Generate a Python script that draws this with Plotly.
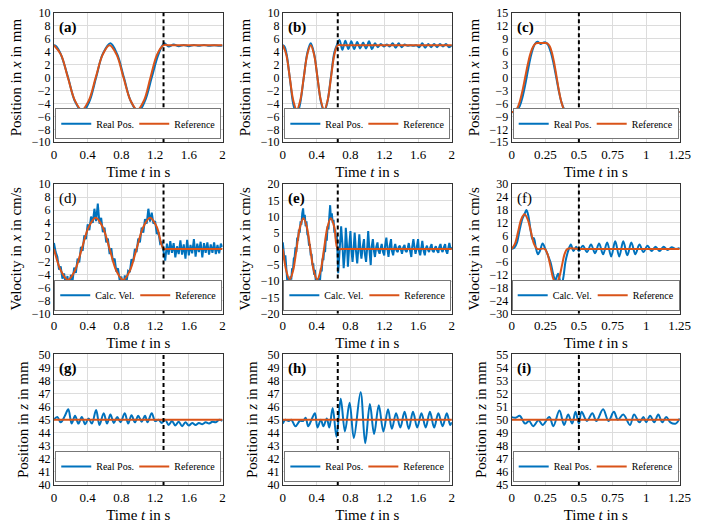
import plotly.graph_objects as go

BLUE = "#0072BD"
ORANGE = "#D95319"

# ---------------- Panel (a): position x ----------------
ref_a_t = [0, 0.083, 0.165, 0.248, 0.33, 0.413, 0.495, 0.578, 0.66, 0.743, 0.825, 0.908, 0.99, 1.068, 1.145, 1.223, 1.3, 1.36, 1.5, 2.0]
ref_a_y = [5, 3.54, 0, -3.54, -5, -3.54, 0, 3.54, 5, 3.54, 0, -3.54, -5, -3.54, 0, 3.54, 5, 5, 5, 5]
real_a_t = [0, 0.02, 0.05, 0.09, 0.17, 0.25, 0.34, 0.42, 0.5, 0.58, 0.67, 0.75, 0.83, 0.91, 1.0, 1.08, 1.16, 1.24, 1.31,
            1.36, 1.42, 1.48, 1.54, 1.6, 1.66, 1.72, 1.78, 1.84, 1.9, 1.96, 2.0]
real_a_y = [5, 4.9, 4.4, 3.3, -0.1, -3.7, -5.3, -3.7, 0, 3.7, 5.3, 3.6, 0, -3.6, -5.3, -3.6, 0, 3.6, 5.3,
            4.8, 5.1, 4.85, 5.05, 4.85, 5.05, 4.9, 5.05, 4.9, 5.0, 4.9, 4.95]

# ---------------- Panel (b): position x ----------------
ref_b_t = [0, 0.041, 0.0825, 0.124, 0.165, 0.206, 0.2475, 0.289, 0.33, 0.37, 0.41, 0.45, 0.49, 0.53, 0.57, 0.61, 0.65, 0.7, 1.0, 2.0]
ref_b_y = [5, 3.54, 0, -3.54, -5, -3.54, 0, 3.54, 5, 3.54, 0, -3.54, -5, -3.54, 0, 3.54, 5, 5, 5, 5]
real_b_t = [0, 0.02, 0.045, 0.085, 0.125, 0.165, 0.205, 0.25, 0.29, 0.33, 0.37, 0.41, 0.45, 0.49, 0.53, 0.57, 0.61, 0.645,
            0.67, 0.705, 0.74, 0.775, 0.81, 0.845, 0.88, 0.915, 0.95, 0.985, 1.02, 1.055, 1.09, 1.125, 1.16, 1.195,
            1.23, 1.265, 1.3, 1.335, 1.37, 1.405, 1.44, 1.475, 1.51, 1.545, 1.58, 1.615, 1.65, 1.685, 1.72, 1.755,
            1.79, 1.825, 1.86, 1.895, 1.93, 1.965, 2.0]
real_b_y = [5, 4.8, 3.6, -0.3, -4.2, -5.8, -4.0, 0.2, 3.8, 5.3, 3.7, 0, -3.7, -5.3, -3.6, 0.2, 3.9, 5.2,
            5.8, 4.3, 5.7, 4.4, 5.6, 4.4, 5.5, 4.5, 5.4, 4.5, 5.6, 4.4, 5.3, 4.7, 5.2, 4.8,
            5.1, 4.8, 5.3, 4.6, 5.3, 4.7, 5.1, 4.9, 5.0, 4.9, 5.0, 4.7, 5.3, 4.6, 5.2, 4.7,
            5.2, 4.7, 5.2, 4.8, 5.2, 4.7, 5.0]

# ---------------- Panel (c): position x ----------------
ref_c_t = [0, 0.02, 0.04, 0.06, 0.08, 0.1, 0.12, 0.14, 0.16, 0.18, 0.2, 0.25, 0.267, 0.284, 0.301, 0.318, 0.335,
           0.352, 0.369, 0.386, 0.403, 0.42, 0.5, 1.25]
ref_c_y = [-8, -7.9, -7.2, -5.6, -3.1, 0, 3.1, 5.6, 7.2, 7.9, 8, 8, 7.9, 7.2, 5.6, 3.1, 0,
           -3.1, -5.6, -7.2, -7.9, -8, -8, -8]
real_c_t = [0, 0.02, 0.04, 0.06, 0.08, 0.1, 0.12, 0.14, 0.16, 0.18, 0.195, 0.215, 0.235, 0.25, 0.27, 0.29, 0.31,
            0.33, 0.35, 0.37, 0.39, 0.41, 0.43, 0.46, 0.5, 0.53, 0.56, 0.59, 0.62, 0.65, 0.68, 0.71, 0.74, 0.77,
            0.8, 0.83, 0.86, 0.89, 0.92, 0.95, 0.98, 1.01, 1.04, 1.07, 1.1, 1.25]
real_c_y = [-8, -8, -7.6, -6.6, -4.6, -1.8, 1.5, 4.6, 6.9, 8.1, 8.3, 7.8, 8.1, 8.2, 7.6, 6.0, 3.5,
            0.3, -3.0, -5.7, -7.3, -7.9, -8.2, -7.9, -8.1, -7.8, -8.3, -7.8, -8.3, -7.8, -8.3, -7.8, -8.3, -7.7,
            -8.3, -7.7, -8.3, -7.8, -8.2, -7.8, -8.2, -7.9, -8.1, -7.95, -8.05, -8]

# ---------------- Panel (d): velocity x ----------------
ref_d_t = [0, 0.0825, 0.165, 0.2475, 0.33, 0.4125, 0.495, 0.5775, 0.66, 0.74, 0.82, 0.9, 0.98, 1.06, 1.14, 1.22, 1.3, 1.35, 2.0]
ref_d_y = [0, -3.39, -4.8, -3.39, 0, 3.39, 4.8, 3.39, 0, -3.39, -4.8, -3.39, 0, 3.39, 4.8, 3.39, 0, 0, 0]
calc_d_t = [0.0, 0.02, 0.04, 0.06, 0.08, 0.10, 0.12, 0.14, 0.16, 0.18, 0.20, 0.22, 0.24, 0.26, 0.28, 0.30, 0.32,
            0.34, 0.36, 0.38, 0.40, 0.42, 0.44, 0.46, 0.48, 0.50, 0.52, 0.54, 0.56, 0.58, 0.60, 0.62, 0.64, 0.66,
            0.68, 0.70, 0.72, 0.74, 0.76, 0.78, 0.80, 0.82, 0.84, 0.86, 0.88, 0.90, 0.92, 0.94, 0.96, 0.98, 1.00,
            1.02, 1.04, 1.06, 1.08, 1.10, 1.12, 1.14, 1.16, 1.18, 1.20, 1.22, 1.24, 1.26, 1.28, 1.30,
            1.32, 1.34, 1.36, 1.38, 1.40, 1.42, 1.44, 1.46, 1.48, 1.50, 1.52, 1.54, 1.56, 1.58, 1.60, 1.62, 1.64,
            1.66, 1.68, 1.70, 1.72, 1.74, 1.76, 1.78, 1.80, 1.82, 1.84, 1.86, 1.88, 1.90, 1.92, 1.94, 1.96, 1.98, 2.00]
calc_d_y = [0.9, -0.5, -1.2, -3.2, -2.7, -4.6, -3.8, -5.6, -4.2, -6.6, -4.0, -5.0, -2.9, -3.7, -1.5, -2.1, 0.3,
            -0.3, 2.1, 1.5, 3.8, 2.9, 5.0, 4.0, 6.2, 4.3, 7.0, 3.9, 4.8, 2.6, 3.3, 1.0, 1.6, -0.8,
            0.1, -2.0, -1.5, -3.5, -3.0, -4.9, -4.3, -6.6, -4.1, -5.2, -3.4, -3.6, -1.6, -2.0, 0.0, -0.5, 1.6,
            1.0, 3.3, 2.5, 4.6, 3.9, 6.2, 4.2, 5.6, 3.9, 4.3, 2.3, 2.6, 0.8, 1.0, -0.6,
            -1.8, 0.8, -0.9, 1.2, -0.6, 0.9, -1.3, 0.4, -0.8, 1.3, -0.9, 0.7, -1.5, 1.4, -1.0, 0.6, -0.7,
            1.5, -1.2, 0.8, -0.5, 1.1, -1.3, 0.9, -0.6, 1.0, -0.9, 0.7, -0.6, 1.0, -0.8, 0.6, -0.7, 0.8, 0.3]

# ---------------- Panel (e): velocity x ----------------
ref_e_t = [0, 0.0406, 0.0813, 0.1219, 0.1625, 0.2031, 0.2438, 0.2844, 0.325, 0.3656, 0.4063, 0.4469, 0.4875,
           0.5281, 0.5688, 0.6094, 0.65, 0.7, 2.0]
ref_e_y = [0, -6.72, -9.5, -6.72, 0, 6.72, 9.5, 6.72, 0, -6.72, -9.5, -6.72, 0, 6.72, 9.5, 6.72, 0, 0, 0]
calc_e_t = [0.0, 0.01, 0.02, 0.03, 0.04, 0.05, 0.06, 0.07, 0.08, 0.09, 0.10, 0.11, 0.12, 0.13, 0.14, 0.15, 0.16,
            0.17, 0.18, 0.19, 0.20, 0.21, 0.22, 0.23, 0.24, 0.25, 0.26, 0.27, 0.28, 0.29, 0.30, 0.31, 0.32, 0.33,
            0.34, 0.35, 0.36, 0.37, 0.38, 0.39, 0.40, 0.41, 0.42, 0.43, 0.44, 0.45, 0.46, 0.47, 0.48, 0.49, 0.50,
            0.51, 0.52, 0.53, 0.54, 0.55, 0.56, 0.57, 0.58, 0.59, 0.60, 0.61, 0.62, 0.63, 0.64, 0.655,
            0.67, 0.69, 0.705, 0.72, 0.735, 0.745, 0.76, 0.77, 0.785, 0.80, 0.81, 0.825, 0.84, 0.85, 0.865, 0.88,
            0.895, 0.905, 0.92, 0.93, 0.945, 0.96, 0.97, 0.985, 1.0, 1.01, 1.025, 1.04, 1.05, 1.065, 1.08, 1.09,
            1.105, 1.12, 1.13, 1.145, 1.16, 1.17, 1.185, 1.2, 1.21, 1.225, 1.24, 1.25, 1.265, 1.28, 1.29, 1.305,
            1.32, 1.33, 1.345, 1.36, 1.37, 1.385, 1.40, 1.41, 1.425, 1.44, 1.45, 1.465, 1.48, 1.49, 1.505, 1.52,
            1.53, 1.545, 1.56, 1.57, 1.585, 1.60, 1.61, 1.625, 1.64, 1.65, 1.665, 1.68, 1.69, 1.705, 1.72, 1.73,
            1.745, 1.76, 1.77, 1.785, 1.80, 1.81, 1.825, 1.84, 1.85, 1.865, 1.88, 1.89, 1.905, 1.92, 1.93, 1.945,
            1.96, 1.97, 1.985, 2.0]
calc_e_y = [2.0, -1.0, -3.5, -2.0, -6.0, -8.0, -12.5, -9.0, -11.5, -8.5, -9.5, -6.0, -6.5, -3.0, -2.5, 0.5, -1.0,
            3.5, 2.5, 6.0, 5.0, 8.5, 7.5, 11.0, 12.5, 9.0, 10.5, 7.0, 8.5, 4.5, 4.0, 1.0, 1.5, -2.0,
            -1.5, -5.0, -4.5, -8.0, -6.5, -10.0, -9.0, -11.5, -12.0, -9.0, -10.0, -6.0, -7.0, -3.0, -3.5, 0.0, -1.0,
            3.5, 2.5, 7.0, 6.0, 10.0, 13.5, 9.0, 11.0, 8.0, 9.0, 5.0, 6.0, 2.5, 4.0, -7.5,
            -2.0, 7.0, 1.5, -6.0, -1.0, 6.5, 1.0, -5.5, 0.5, 5.5, 0.0, -4.0, 1.0, 5.0, -0.5, -4.5,
            0.5, 4.5, -1.0, -3.0, 0.5, 3.0, -1.5, -4.0, 1.0, 5.5, -0.5, -5.0, 0.5, 3.0, -1.0, -2.5,
            0.5, 2.0, -0.5, -1.5, 0.5, 1.5, -1.0, -2.0, 1.0, 3.5, -0.5, -2.5, 1.0, 3.0, -0.5, -2.0,
            0.5, 1.5, -0.5, -1.0, 0.5, 1.0, -0.5, -1.5, 0.5, 1.2, -0.5, -1.0, 0.5, 1.8, -0.5, -2.5,
            0.5, 3.0, 0.0, -1.5, 0.5, 3.0, -0.5, -2.0, 0.5, 2.5, -0.5, -2.0, 0.0, 1.0, -0.5, -1.0,
            0.5, 1.5, -0.5, -1.0, 0.3, 0.8, -0.5, -1.2, 0.5, 1.5, -0.5, -1.0, 0.5, 1.5, -0.5, -1.5,
            0.5, 1.8, 0.0, 0.5]

# ---------------- Panel (f): velocity x ----------------
ref_f_t = [0, 0.024, 0.048, 0.071, 0.095, 0.119, 0.143, 0.166, 0.19, 0.245, 0.266, 0.288, 0.309, 0.33, 0.351,
           0.373, 0.394, 0.415, 0.5, 1.25]
ref_f_y = [0, 2.3, 8, 13.7, 16, 13.7, 8, 2.3, 0, 0, -2.3, -8, -13.7, -16, -13.7, -8, -2.3, 0, 0, 0]
calc_f_t = [0, 0.02, 0.04, 0.06, 0.08, 0.095, 0.11, 0.125, 0.14, 0.155, 0.165, 0.18, 0.195, 0.21, 0.23, 0.25,
            0.27, 0.29, 0.31, 0.325, 0.345, 0.36, 0.37, 0.385, 0.40, 0.42, 0.44, 0.46, 0.48, 0.50, 0.53, 0.56,
            0.59, 0.62, 0.65, 0.68, 0.71, 0.74, 0.77, 0.80, 0.83, 0.86, 0.89, 0.92, 0.95, 0.98, 1.01, 1.04,
            1.07, 1.10, 1.13, 1.16, 1.19, 1.22, 1.25]
calc_f_y = [0, 0.5, 3.0, 9.0, 14.0, 16.0, 18.0, 15.0, 9.0, 4.5, 5.0, 0.5, -2.5, -1.0, 2.5, 0,
            -3.0, -6.5, -12.0, -14.5, -11.5, -15.0, -17.0, -13.0, -6.0, -1.0, 2.0, -1.0, 1.0, -1.0, 1.5, -1.5,
            2.0, -2.0, 2.5, -2.5, 3.0, -3.5, 3.5, -3.5, 3.5, -3.0, 3.0, -2.5, 2.0, -1.5, 1.5, -1.0,
            1.0, -1.0, 1.0, -0.5, 0.8, 0.0, 0.5]

# ---------------- Panel (g): position z ----------------
ref_g_t = [0, 2]
ref_g_y = [45, 45]
real_g_t = [0.0, 0.04, 0.08, 0.13, 0.17, 0.21, 0.25, 0.29, 0.33, 0.37, 0.41, 0.45, 0.50, 0.54, 0.59, 0.63,
            0.67, 0.71, 0.75, 0.79, 0.84, 0.88, 0.92, 0.96, 1.00, 1.04, 1.08, 1.11, 1.16, 1.20, 1.24, 1.28,
            1.32, 1.36, 1.40, 1.44, 1.48, 1.52, 1.56, 1.60, 1.64, 1.68, 1.72, 1.76, 1.80, 1.84, 1.88, 1.92,
            1.96, 2.0]
real_g_y = [45.0, 45.2, 44.8, 45.3, 45.8, 44.7, 45.3, 44.7, 45.2, 44.65, 45.1, 44.7, 45.75, 44.6, 45.5, 44.7,
            45.4, 44.75, 45.2, 44.8, 45.5, 44.7, 45.35, 44.8, 45.3, 44.85, 45.3, 44.8, 45.5, 44.9, 45.0, 44.75,
            45.0, 44.6, 44.9, 44.55, 44.85, 44.5, 44.8, 44.55, 44.75, 44.6, 44.75, 44.65, 44.8, 44.7, 44.85, 44.8,
            45.0, 44.9]

# ---------------- Panel (h): position z ----------------
ref_h_t = [0, 2]
ref_h_y = [45, 45]
real_h_t = [0.0, 0.03, 0.07, 0.10, 0.15, 0.2, 0.24, 0.27, 0.30, 0.34, 0.38, 0.41, 0.45, 0.48, 0.52, 0.55,
            0.59, 0.635, 0.685, 0.735, 0.79, 0.84, 0.92, 0.975, 1.03, 1.08, 1.135, 1.19, 1.245, 1.29, 1.34,
            1.39, 1.44, 1.49, 1.54, 1.59, 1.64, 1.69, 1.74, 1.79, 1.84, 1.89, 1.94, 1.98, 2.0]
real_h_y = [44.7, 45.0, 44.9, 45.0, 44.5, 44.9, 44.9, 45.15, 44.5, 45.0, 45.5, 44.4, 45.0, 44.5, 45.1, 44.4,
            45.9, 43.7, 46.6, 44.1, 46.3, 43.6, 47.1, 43.2, 46.2, 43.9, 46.1, 44.1, 45.8, 44.3, 45.5,
            44.4, 45.6, 44.3, 45.6, 44.4, 45.5, 44.4, 45.6, 44.4, 45.5, 44.5, 45.5, 44.6, 44.8]

# ---------------- Panel (i): position z ----------------
ref_i_t = [0, 1.25]
ref_i_y = [50, 50]
real_i_t = [0.0, 0.03, 0.06, 0.1, 0.13, 0.16, 0.2, 0.23, 0.28, 0.31, 0.355, 0.39, 0.42, 0.45, 0.475, 0.5,
            0.52, 0.56, 0.6, 0.63, 0.68, 0.72, 0.76, 0.79, 0.83, 0.88, 0.91, 0.95, 0.98, 1.0, 1.03, 1.06,
            1.09, 1.12, 1.15, 1.18, 1.22, 1.25]
real_i_y = [50.2, 50.15, 50.3, 49.7, 49.9, 49.5, 49.95, 49.6, 50.2, 49.5, 50.7, 49.6, 50.4, 49.7, 50.6, 49.7,
            50.6, 49.9, 50.5, 49.9, 50.8, 49.9, 50.6, 50.0, 50.4, 49.6, 50.4, 49.8, 50.2, 49.8, 50.3, 49.8,
            50.4, 49.8, 50.2, 49.8, 49.7, 50.1]

# ---------------- axes settings ----------------
switch_times = [1.3, 0.65, 0.5, 1.3, 0.65, 0.5, 1.3, 0.65, 0.5]
x_ranges = [[0, 2], [0, 2], [0, 1.25]] * 3
x_dticks = [0.4, 0.4, 0.25] * 3
y_ranges = [[-10, 10], [-10, 10], [-15, 15], [-10, 10], [-20, 20], [-30, 30], [40, 50], [40, 50], [45, 55]]
y_dticks = [2, 2, 3, 2, 5, 6, 1, 1, 1]
y_titles = ["Position in <i>x</i> in mm"] * 3 + ["Velocity in <i>x</i> in cm/s"] * 3 + ["Position in <i>z</i> in mm"] * 3
panel_labels = ["(a)", "(b)", "(c)", "(d)", "(e)", "(f)", "(g)", "(h)", "(i)"]
panel_bold = [True, True, True, False, True, False, True, True, True]
meas_names = ["Real Pos."] * 3 + ["Calc. Vel."] * 3 + ["Real Pos."] * 3
meas_legw = [33, 33, 33, 35, 35, 35, 33, 33, 33]

meas_t = [real_a_t, real_b_t, real_c_t, calc_d_t, calc_e_t, calc_f_t, real_g_t, real_h_t, real_i_t]
meas_y = [real_a_y, real_b_y, real_c_y, calc_d_y, calc_e_y, calc_f_y, real_g_y, real_h_y, real_i_y]
ref_t = [ref_a_t, ref_b_t, ref_c_t, ref_d_t, ref_e_t, ref_f_t, ref_g_t, ref_h_t, ref_i_t]
ref_y = [ref_a_y, ref_b_y, ref_c_y, ref_d_y, ref_e_y, ref_f_y, ref_g_y, ref_h_y, ref_i_y]
meas_shape = ["spline", "spline", "spline", "linear", "linear", "spline", "spline", "spline", "spline"]

W, H = 703, 525
col_px = [(52, 224), (285.5, 458), (519, 690.5)]
row_px = [(6, 139), (182, 315), (357, 491)]

FONT = "Liberation Serif"
fig = go.Figure()
layout = dict(
    width=W, height=H, margin=dict(l=0, r=0, t=0, b=0),
    paper_bgcolor="white", plot_bgcolor="white",
    font=dict(family=FONT, size=12, color="black"),
    shapes=[], annotations=[],
)

for i in range(9):
    r, c = divmod(i, 3)
    n = "" if i == 0 else str(i + 1)
    xa, ya = "x" + n, "y" + n
    leg = "legend" if i == 0 else "legend" + str(i + 1)
    x0, x1 = col_px[c]
    y0, y1 = row_px[r]
    layout["xaxis" + n] = dict(
        domain=[x0 / W, x1 / W], anchor=ya, range=x_ranges[i], dtick=x_dticks[i], tick0=0,
        showgrid=True, gridcolor="#dcdcdc", gridwidth=1, zeroline=False,
        showline=True, linecolor="#333", linewidth=1, mirror=True,
        ticks="", tickfont=dict(size=13),
        title=dict(text="Time <i>t</i> in s", font=dict(size=15), standoff=5),
    )
    layout["yaxis" + n] = dict(
        domain=[1 - y1 / H, 1 - y0 / H], anchor=xa, range=y_ranges[i], dtick=y_dticks[i], tick0=0,
        showgrid=True, gridcolor="#dcdcdc", gridwidth=1, zeroline=False,
        showline=True, linecolor="#333", linewidth=1, mirror=True,
        ticks="", tickfont=dict(size=12),
        title=dict(text=y_titles[i], font=dict(size=15), standoff=6),
    )
    layout[leg] = dict(
        orientation="h", xref="paper", yref="paper",
        x=(x0 + x1) / 2 / W, xanchor="center",
        y=1 - (y1 - 3) / H, yanchor="bottom",
        bgcolor="white", bordercolor="#777", borderwidth=1,
        font=dict(family=FONT, size=10), itemwidth=30,
        tracegroupgap=0,
    )
    fig.add_trace(go.Scatter(
        x=meas_t[i], y=meas_y[i], mode="lines", name=meas_names[i],
        line=dict(color=BLUE, width=2, shape=meas_shape[i]),
        xaxis=xa, yaxis=ya, legend=leg, legendwidth=meas_legw[i],
    ))
    fig.add_trace(go.Scatter(
        x=ref_t[i], y=ref_y[i], mode="lines", name="Reference",
        line=dict(color=ORANGE, width=2, shape="spline"),
        xaxis=xa, yaxis=ya, legend=leg, legendwidth=41,
    ))
    layout["shapes"].append(dict(
        type="line", xref=xa, yref=ya + " domain", x0=switch_times[i], x1=switch_times[i], y0=0, y1=1,
        line=dict(color="black", width=2, dash="4px,3px"),
    ))
    lbl = panel_labels[i]
    layout["annotations"].append(dict(
        text=("<b>" + lbl + "</b>") if panel_bold[i] else lbl,
        xref=xa + " domain", yref=ya + " domain", x=0.02, y=0.97,
        xanchor="left", yanchor="top", showarrow=False,
        font=dict(family=FONT, size=15, color="black"),
    ))

fig.update_layout(**layout)
fig.write_html("out.html")
